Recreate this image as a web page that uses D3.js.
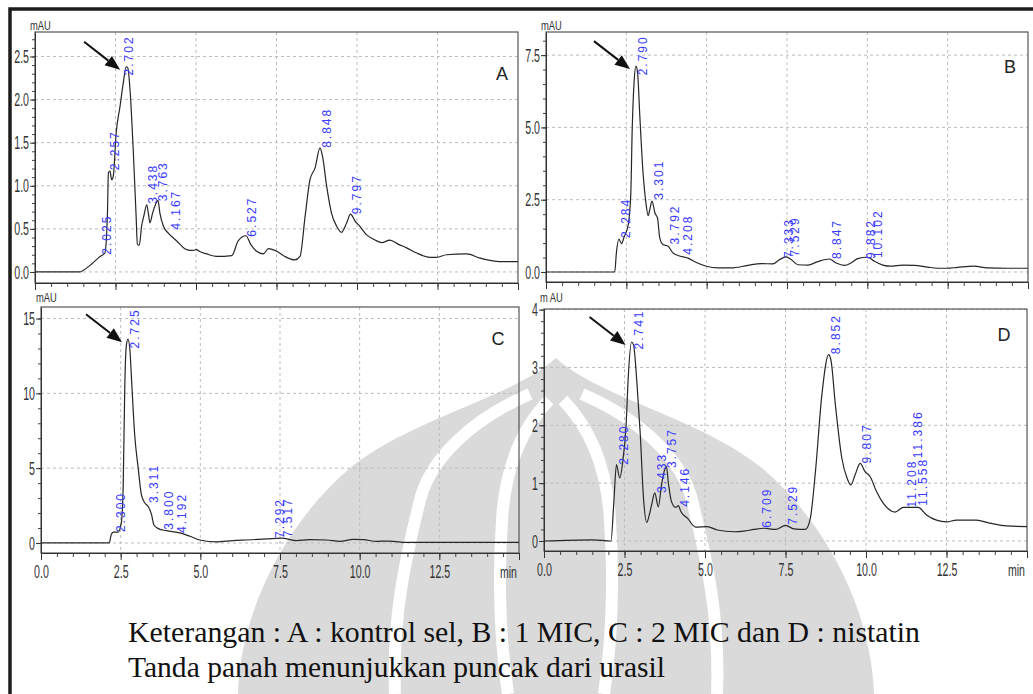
<!DOCTYPE html>
<html>
<head>
<meta charset="utf-8">
<script src="https://cdn.jsdelivr.net/npm/d3@7"></script>
<style>
  body { margin: 0; background: #fff; }
  svg { display: block; }
</style>
</head>
<body>
<div id="chart"></div>
<script>

// chromatogram traces, [minutes, mAU]
const traceA = [[0,0],[1.4,0],[1.5,0.02],[1.75,0.09],[2.02,0.18],[2.17,0.22],[2.25,0.68],[2.28,1.15],[2.33,1.17],[2.38,1.07],[2.43,1.11],[2.52,1.61],[2.64,1.92],[2.74,2.19],[2.83,2.38],[2.88,2.37],[2.95,2.12],[3.05,1.42],[3.14,0.65],[3.18,0.32],[3.24,0.31],[3.31,0.53],[3.38,0.65],[3.47,0.78],[3.52,0.68],[3.57,0.57],[3.65,0.68],[3.74,0.78],[3.82,0.83],[3.88,0.68],[3.99,0.53],[4.14,0.45],[4.40,0.36],[4.71,0.26],[4.9,0.25],[5.02,0.26],[5.1,0.24],[5.33,0.21],[5.64,0.18],[6.11,0.19],[6.31,0.36],[6.55,0.42],[6.70,0.32],[6.88,0.24],[7.09,0.21],[7.25,0.27],[7.51,0.24],[7.76,0.18],[8.07,0.14],[8.23,0.18],[8.39,0.65],[8.54,1.07],[8.70,1.21],[8.85,1.44],[8.93,1.34],[9.06,0.99],[9.21,0.68],[9.37,0.53],[9.52,0.46],[9.68,0.57],[9.80,0.67],[9.94,0.59],[10.09,0.53],[10.30,0.43],[10.51,0.38],[10.77,0.34],[11.02,0.37],[11.29,0.32],[11.54,0.28],[11.85,0.22],[12.27,0.17],[12.47,0.17],[12.78,0.20],[13.41,0.21],[13.82,0.16],[14.44,0.12],[15,0.12]];
const traceB = [[0,0],[2.14,0],[2.19,0.66],[2.27,1.14],[2.35,0.98],[2.43,1.21],[2.56,1.64],[2.64,2.73],[2.68,4.81],[2.74,6.54],[2.80,7.12],[2.85,6.89],[2.92,5.39],[3.02,3.43],[3.11,2.39],[3.18,1.95],[3.23,2.16],[3.30,2.45],[3.39,2.04],[3.47,1.87],[3.54,1.18],[3.64,0.95],[3.80,0.89],[3.95,0.66],[4.11,0.57],[4.42,0.48],[4.68,0.33],[4.99,0.20],[5.35,0.14],[5.77,0.14],[6.28,0.23],[6.70,0.29],[7.06,0.28],[7.27,0.43],[7.47,0.52],[7.63,0.43],[7.84,0.25],[8.15,0.24],[8.46,0.36],[8.82,0.45],[9.03,0.31],[9.29,0.23],[9.49,0.31],[9.70,0.46],[10.01,0.51],[10.22,0.37],[10.48,0.24],[10.73,0.20],[11.10,0.24],[11.46,0.23],[11.87,0.17],[12.18,0.13],[12.49,0.13],[12.81,0.16],[13.32,0.20],[13.74,0.14],[14.36,0.13],[15,0.13]];
const traceC = [[0,0],[2.14,0],[2.21,0.60],[2.28,0.73],[2.42,0.73],[2.52,1.34],[2.58,3.9],[2.63,10.57],[2.68,13.24],[2.73,13.62],[2.79,12.9],[2.84,11.0],[2.94,7.23],[3.05,5.0],[3.15,3.23],[3.26,2.67],[3.36,2.45],[3.47,1.89],[3.54,1.22],[3.68,0.96],[3.94,0.82],[4.36,0.67],[4.67,0.45],[4.98,0.20],[5.51,0.07],[6.03,0.16],[6.45,0.20],[7.08,0.27],[7.55,0.33],[8.02,0.16],[8.44,0.22],[8.96,0.20],[9.38,0.11],[9.80,0.24],[10.12,0.22],[10.53,0.11],[10.95,0.13],[11.37,0.04],[12.31,0.04],[15,0.04]];
const traceD = [[0,0],[1.52,0.02],[2.08,0.0],[2.17,0.68],[2.25,1.32],[2.35,1.09],[2.44,1.34],[2.55,2.01],[2.62,2.87],[2.72,3.44],[2.78,3.39],[2.89,2.70],[2.99,1.84],[3.09,0.74],[3.19,0.32],[3.27,0.45],[3.34,0.62],[3.44,0.83],[3.55,0.59],[3.65,0.97],[3.73,1.20],[3.80,1.29],[3.87,0.97],[3.96,0.68],[4.09,0.58],[4.17,0.61],[4.25,0.51],[4.46,0.39],[4.71,0.24],[5.07,0.25],[5.38,0.19],[5.90,0.16],[6.21,0.17],[6.52,0.20],[6.83,0.22],[7.19,0.20],[7.50,0.27],[7.76,0.21],[8.12,0.20],[8.27,0.39],[8.43,1.20],[8.63,2.53],[8.84,3.22],[8.91,3.13],[9.05,2.35],[9.25,1.43],[9.41,1.09],[9.53,0.97],[9.66,1.14],[9.82,1.34],[9.97,1.20],[10.13,1.11],[10.33,0.85],[10.54,0.65],[10.90,0.50],[11.16,0.58],[11.62,0.58],[11.88,0.45],[12.19,0.36],[12.50,0.33],[12.81,0.36],[13.43,0.36],[13.84,0.31],[14.36,0.26],[15,0.25]];

// peak labels: [retention time, height where the label starts]
const peaksA = [[2.025,0.20],[2.257,1.18],[2.702,2.28],[3.438,0.79],[3.763,0.82],[4.167,0.49],[6.527,0.41],[8.848,1.44],[9.797,0.67]];
const peaksB = [[2.284,1.18],[2.790,6.80],[3.301,2.50],[3.792,0.95],[4.208,0.60],[7.333,0.48],[7.529,0.54],[8.847,0.45],[9.882,0.45],[10.102,0.48]];
const peaksC = [[2.300,0.73],[2.725,13.0],[3.311,2.67],[3.800,0.89],[4.192,0.67],[7.292,0.33],[7.517,0.38]];
const peaksD = [[2.280,1.32],[2.741,3.31],[3.433,0.83],[3.757,1.26],[4.146,0.59],[6.709,0.23],[7.529,0.28],[8.852,3.23],[9.807,1.34],[11.208,0.58],[11.386,1.43],[11.558,0.61]];

// axis ticks
const xMajor = [0, 2.5, 5, 7.5, 10, 12.5, 15];
const yTicksA = [0, 0.5, 1, 1.5, 2, 2.5];
const yTicksB = [0, 2.5, 5, 7.5];
const yTicksC = [0, 5, 10, 15];
const yTicksD = [0, 1, 2, 3, 4];

const captionLines = [
    "Keterangan : A : kontrol sel, B : 1 MIC, C : 2 MIC dan D : nistatin",
    "Tanda panah menunjukkan puncak dari urasil"
];

const sans = "'Liberation Sans', Arial, sans-serif";
const peakBlue = "#3a3aff";
const squeeze = 0.56;   // tick labels in the scan are very narrow

// layout of the four panels
const panels = [
    {name: "A", trace: traceA, peaks: peaksA, yTicks: yTicksA, yMinor: 0.1, yFmt: ".1f",
     left: 35, right: 518, top: 32, bottom: 283, yDomain: [-0.128, 2.784], xLabels: false,
     letter: [502, 80], unit: [30, 30], unitText: "mAU"},
    {name: "B", trace: traceB, peaks: peaksB, yTicks: yTicksB, yMinor: 0.5, yFmt: ".1f",
     left: 546, right: 1028, top: 32, bottom: 282, yDomain: [-0.346, 8.30], xLabels: false,
     letter: [1010, 73], unit: [541, 30], unitText: "mAU"},
    {name: "C", trace: traceC, peaks: peaksC, yTicks: yTicksC, yMinor: 1, yFmt: "d",
     left: 41, right: 519, top: 307, bottom: 553, yDomain: [-0.67, 15.77], xLabels: true,
     letter: [498, 345], unit: [36, 302], unitText: "mAU"},
    {name: "D", trace: traceD, peaks: peaksD, yTicks: yTicksD, yMinor: 0.2, yFmt: "d",
     left: 544, right: 1027, top: 309, bottom: 551, yDomain: [-0.173, 4.01], xLabels: true,
     letter: [1004, 341], unit: [540, 302], unitText: "m AU"}
];

const svg = d3.select("#chart").append("svg")
    .attr("width", 1033)
    .attr("height", 694);

// faint logo watermark behind the lower panels
function drawWatermark() {
    let wm = svg.append("g");
    wm.append("path")
        .attr("d", "M556,358 C600,398 700,418 762,468 C832,528 872,618 874,694 L238,694 C240,618 280,528 350,468 C412,418 512,398 556,358 Z")
        .attr("fill", "#dadada");
    let carve = [
        "M530,394 C470,420 430,460 420,500 C405,560 392,620 395,694",
        "M549,400 C520,430 505,470 502,520 C498,580 500,640 508,694",
        "M582,394 C642,420 682,460 692,500 C707,560 720,620 717,694",
        "M563,400 C592,430 607,470 610,520 C614,580 612,640 604,694"
    ];
    wm.selectAll("path.carve").data(carve).join("path")
        .attr("class", "carve")
        .attr("d", d => d)
        .attr("fill", "none")
        .attr("stroke", "#fff")
        .attr("stroke-width", 12);
}

function drawPanel(p) {
    let x = d3.scaleLinear().domain([0, 15]).range([p.left, p.right]);
    let y = d3.scaleLinear().domain(p.yDomain).range([p.bottom, p.top]);
    let g = svg.append("g");

    // dashed grid
    g.append("g").selectAll("line").data(xMajor.slice(1, -1)).join("line")
        .attr("x1", d => x(d)).attr("x2", d => x(d))
        .attr("y1", p.top).attr("y2", p.bottom)
        .attr("stroke", "#bdbdbd").attr("stroke-dasharray", "3,3");
    g.append("g").selectAll("line").data(p.yTicks).join("line")
        .attr("x1", p.left).attr("x2", p.right)
        .attr("y1", d => y(d)).attr("y2", d => y(d))
        .attr("stroke", "#bdbdbd").attr("stroke-dasharray", "3,3");

    g.append("rect")
        .attr("x", p.left).attr("y", p.top)
        .attr("width", p.right - p.left).attr("height", p.bottom - p.top)
        .attr("fill", "none").attr("stroke", "#555").attr("stroke-width", 1.2);

    // y axis
    let minorY = d3.range(0, p.yDomain[1], p.yMinor);
    g.append("g").attr("transform", `translate(${p.left},0)`)
        .call(d3.axisLeft(y).tickValues(minorY).tickSize(3).tickFormat(""))
        .call(a => a.select(".domain").remove())
        .selectAll("line").attr("stroke", "#444");
    let ya = g.append("g").attr("transform", `translate(${p.left},0)`)
        .call(d3.axisLeft(y).tickValues(p.yTicks).tickSize(5).tickSizeOuter(0)
            .tickFormat(d3.format(p.yFmt)));
    ya.select(".domain").attr("stroke", "#333");
    ya.selectAll("line").attr("stroke", "#333");
    ya.selectAll("text")
        .attr("x", -6 / squeeze)
        .attr("transform", `scale(${squeeze},1)`)
        .attr("font-family", sans).attr("font-size", 19).attr("fill", "#333");

    // x axis
    g.append("g").attr("transform", `translate(0,${p.bottom})`)
        .call(d3.axisBottom(x).tickValues(d3.range(0, 15.01, 0.5)).tickSize(4).tickFormat(""))
        .call(a => a.select(".domain").remove())
        .selectAll("line").attr("stroke", "#444");
    let xa = g.append("g").attr("transform", `translate(0,${p.bottom})`)
        .call(d3.axisBottom(x).tickValues(xMajor).tickSize(7).tickSizeOuter(0).tickPadding(5)
            .tickFormat(d => (p.xLabels && d < 15) ? d3.format(".1f")(d) : ""));
    xa.select(".domain").attr("stroke", "#333");
    xa.selectAll("line").attr("stroke", "#333");
    xa.selectAll("text")
        .attr("transform", `scale(${squeeze},1)`)
        .attr("font-family", sans).attr("font-size", 19).attr("fill", "#333");
    if (p.xLabels) {
        g.append("text")
            .attr("transform", `translate(${p.right - 2},${p.bottom + 25}) scale(0.66,1)`)
            .attr("text-anchor", "end")
            .attr("font-family", sans).attr("font-size", 16).attr("fill", "#333")
            .text("min");
    }

    g.append("text")
        .attr("transform", `translate(${p.unit[0]},${p.unit[1]}) scale(0.72,1)`)
        .attr("font-family", sans).attr("font-size", 13).attr("fill", "#333")
        .text(p.unitText);

    // trace
    g.append("clipPath").attr("id", "clip" + p.name)
        .append("rect")
        .attr("x", p.left).attr("y", p.top)
        .attr("width", p.right - p.left).attr("height", p.bottom - p.top);
    let line = d3.line()
        .x(d => x(d[0]))
        .y(d => y(d[1]))
        .curve(d3.curveMonotoneX);
    g.append("path")
        .datum(p.trace)
        .attr("clip-path", `url(#clip${p.name})`)
        .attr("d", line)
        .attr("fill", "none")
        .attr("stroke", "#262626")
        .attr("stroke-width", 1.2);

    // retention time labels
    g.append("g").selectAll("text").data(p.peaks).join("text")
        .attr("transform", d => `translate(${x(d[0]) + 11},${y(d[1])}) rotate(-90)`)
        .attr("font-family", sans).attr("font-size", 12)
        .attr("letter-spacing", 2)
        .attr("fill", peakBlue)
        .text(d => d3.format(".3f")(d[0]));

    // arrow to the uracil peak
    let pk = d3.greatest(p.trace, d => d[1]);
    let tip = [x(pk[0]) - 6, y(pk[1]) + 3];
    let tail = [tip[0] - 36, tip[1] - 28];
    let len = Math.hypot(tip[0] - tail[0], tip[1] - tail[1]);
    let u = [(tip[0] - tail[0]) / len, (tip[1] - tail[1]) / len];
    let base = [tip[0] - 15 * u[0], tip[1] - 15 * u[1]];
    let n = [-u[1], u[0]];
    g.append("line")
        .attr("x1", tail[0]).attr("y1", tail[1])
        .attr("x2", base[0]).attr("y2", base[1])
        .attr("stroke", "#111").attr("stroke-width", 2);
    g.append("polygon")
        .attr("points", [tip, [base[0] + 6 * n[0], base[1] + 6 * n[1]], [base[0] - 6 * n[0], base[1] - 6 * n[1]]].map(q => q.join(",")).join(" "))
        .attr("fill", "#111");

    g.append("text")
        .attr("x", p.letter[0]).attr("y", p.letter[1])
        .attr("text-anchor", "middle")
        .attr("font-family", sans).attr("font-size", 18).attr("fill", "#222")
        .text(p.name);
}

drawWatermark();
panels.forEach(drawPanel);

// caption
svg.append("g").selectAll("text").data(captionLines).join("text")
    .attr("x", 128)
    .attr("y", (d, i) => 642 + i * 35)
    .attr("font-family", "'Liberation Serif', 'Times New Roman', serif")
    .attr("font-size", 29)
    .attr("fill", "#111")
    .attr("textLength", (d, i) => i === 0 ? 792 : 537)
    .attr("lengthAdjust", "spacingAndGlyphs")
    .text(d => d);

// page border
svg.append("path")
    .attr("d", "M10,694 L10,9 L1033,9")
    .attr("fill", "none")
    .attr("stroke", "#1c1c1c")
    .attr("stroke-width", 3.5);

</script>
</body>
</html>
